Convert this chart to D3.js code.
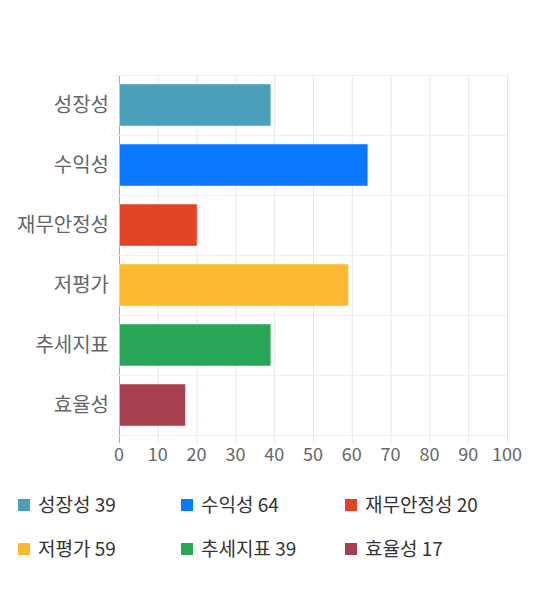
<!DOCTYPE html>
<html>
<head>
<meta charset="utf-8">
<script src="https://cdn.jsdelivr.net/npm/d3@7"></script>
<style>
  body { margin: 0; background: #fff; }
  text { font-family: "Noto Sans CJK KR", "Noto Sans", sans-serif; }
</style>
</head>
<body>
<script>
// chart data
var categories = ["성장성", "수익성", "재무안정성", "저평가", "추세지표", "효율성"];
var values = [39, 64, 20, 59, 39, 17];
var colors = ["#4aa0b9", "#0a77ff", "#e14425", "#fdb831", "#28a655", "#a6404e"];
var xTicks = [0, 10, 20, 30, 40, 50, 60, 70, 80, 90, 100];

var width = 540, height = 590;
var plotLeft = 119, plotRight = 507, plotTop = 75, plotBottom = 435;

var svg = d3.select("body").append("svg")
    .attr("width", width)
    .attr("height", height);

var x = d3.scaleLinear().domain([0, 100]).range([plotLeft, plotRight]);
var y = d3.scaleBand()
    .domain(categories)
    .range([plotTop, plotBottom])
    .paddingInner(0.3)
    .paddingOuter(0.15);

// vertical grid lines
svg.append("g").selectAll("line")
    .data(xTicks)
  .enter().append("line")
    .attr("x1", function(d) { return x(d) + 0.5; })
    .attr("x2", function(d) { return x(d) + 0.5; })
    .attr("y1", plotTop)
    .attr("y2", plotBottom + 8)
    .attr("stroke", function(d) { return d === 0 ? "#aaa" : "#e6e6e6"; });

// horizontal band lines
var bandEdges = categories.map(function(c) { return y(c) - y.step() * y.paddingInner() / 2; });
bandEdges.push(plotBottom);
svg.append("g").selectAll("line")
    .data(bandEdges)
  .enter().append("line")
    .attr("x1", plotLeft - 9)
    .attr("x2", plotRight)
    .attr("y1", function(d) { return Math.round(d) + 0.5; })
    .attr("y2", function(d) { return Math.round(d) + 0.5; })
    .attr("stroke", "#efefef");

// bars
svg.append("g").selectAll("rect")
    .data(values)
  .enter().append("rect")
    .attr("x", x(0) + 0.5)
    .attr("y", function(d, i) { return y(categories[i]); })
    .attr("width", function(d) { return x(d) - x(0); })
    .attr("height", y.bandwidth())
    .attr("fill", function(d, i) { return colors[i]; })
    .attr("stroke", "rgba(255,255,255,0.45)")
    .attr("stroke-width", 1);

// category labels
svg.append("g").selectAll("text")
    .data(categories)
  .enter().append("text")
    .attr("x", plotLeft - 10)
    .attr("y", function(d) { return y(d) + y.bandwidth() / 2; })
    .attr("dy", "0.35em")
    .attr("text-anchor", "end")
    .attr("font-size", 20)
    .attr("fill", "#666")
    .text(function(d) { return d; });

// x tick labels
svg.append("g").selectAll("text")
    .data(xTicks)
  .enter().append("text")
    .attr("x", function(d) { return x(d); })
    .attr("y", 461)
    .attr("text-anchor", "middle")
    .attr("font-size", 18)
    .attr("fill", "#666")
    .text(function(d) { return d; });

// legend
var legendX = [18, 181, 345];
var legendY = [505, 549];
var legend = svg.append("g").selectAll("g")
    .data(categories)
  .enter().append("g")
    .attr("transform", function(d, i) {
        return "translate(" + legendX[i % 3] + "," + legendY[Math.floor(i / 3)] + ")";
    });

legend.append("rect")
    .attr("x", 0)
    .attr("y", -6)
    .attr("width", 12)
    .attr("height", 12)
    .attr("fill", function(d, i) { return colors[i]; });

legend.append("text")
    .attr("x", 20)
    .attr("y", 0)
    .attr("dy", "0.35em")
    .attr("font-size", 19)
    .attr("fill", "#333")
    .text(function(d, i) { return d + " " + values[i]; });
</script>
</body>
</html>
